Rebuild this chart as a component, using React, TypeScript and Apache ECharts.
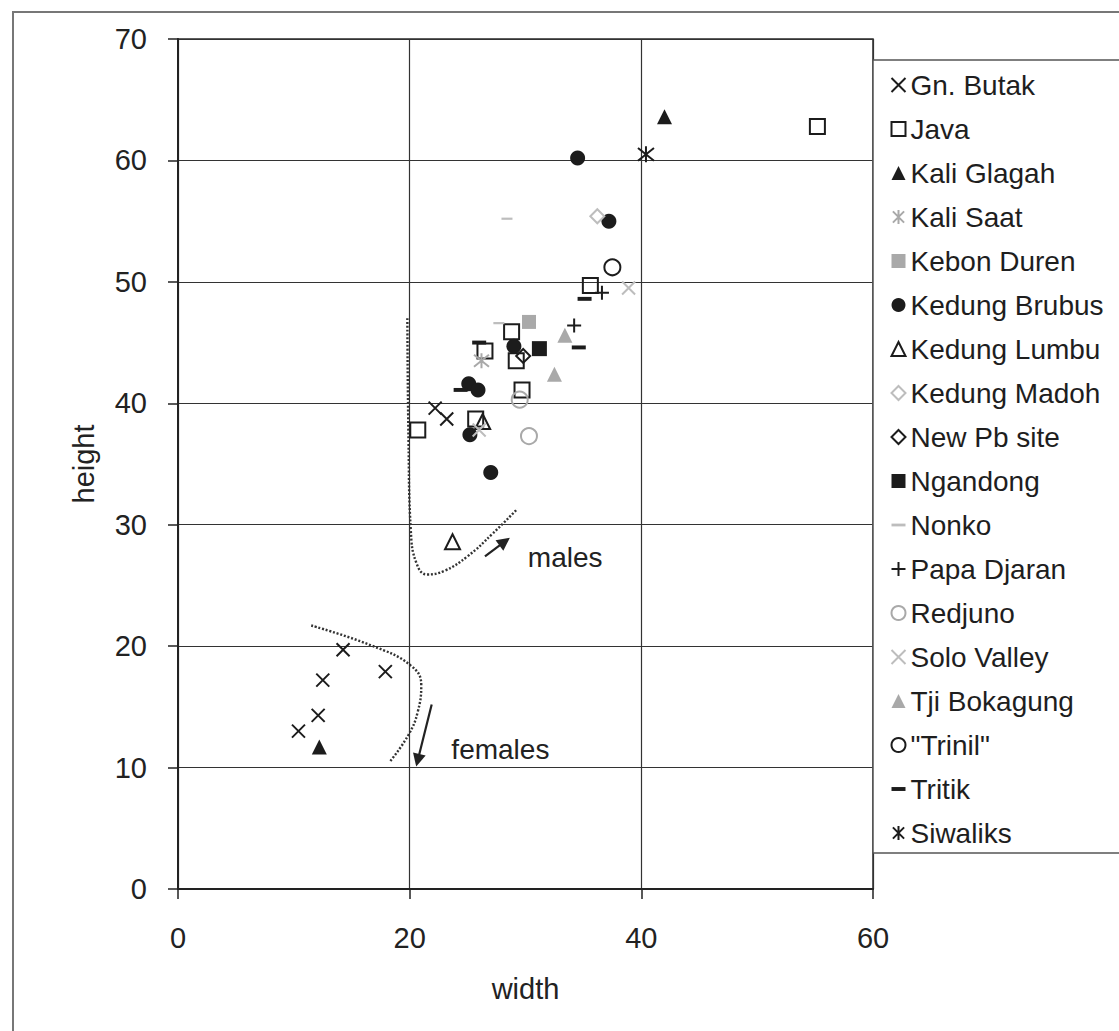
import React, { useEffect, useRef } from 'react';
import * as echarts from 'echarts';

const FONT = '"Liberation Sans", Arial, Helvetica, sans-serif';

// ---- data (width, height) ----
const gnButak = [[14.25, 19.7], [17.9, 17.9], [12.5, 17.2], [12.1, 14.3], [10.4, 13.0], [22.2, 39.6], [23.2, 38.7]];
const java = [[55.2, 62.8], [35.6, 49.7], [28.8, 45.9], [26.5, 44.3], [29.2, 43.5], [29.7, 41.1], [20.7, 37.8], [25.7, 38.7]];
const kaliGlagah = [[42.0, 63.6], [12.2, 11.7]];
const kaliSaat = [[26.2, 43.5]];
const kebonDuren = [[30.3, 46.7]];
const kedungBrubus = [[34.5, 60.2], [37.2, 55.0], [29.0, 44.7], [25.1, 41.6], [25.9, 41.1], [25.2, 37.4], [27.0, 34.3]];
const kedungLumbu = [[26.3, 38.5], [23.7, 28.6]];
const kedungMadoh = [[36.2, 55.4]];
const newPbSite = [[29.8, 43.9]];
const ngandong = [[31.2, 44.5]];
const nonko = [[28.4, 55.2], [27.7, 46.6]];
const papaDjaran = [[36.6, 49.1], [34.2, 46.4]];
const redjuno = [[29.5, 40.3], [30.3, 37.3]];
const soloValley = [[38.9, 49.5], [26.0, 37.8]];
const tjiBokagung = [[33.4, 45.6], [32.5, 42.4]];
const trinil = [[37.5, 51.2]];
const tritik = [[35.1, 48.6], [34.6, 44.6], [26.0, 45.0], [24.4, 41.1]];
const siwaliks = [[40.4, 60.5]];

// hand-drawn annotation curves (control points)
const malesCurve = [[19.8, 47], [19.9, 37], [20.1, 29.5], [20.6, 26.8], [21.5, 25.9], [23.0, 26.2], [25.0, 27.4], [27.2, 29.3], [29.3, 31.3]];
const femalesCurve = [[11.5, 21.7], [16.7, 20.05], [20.1, 18.4], [21.0, 16.8], [20.7, 14.6], [19.9, 12.7], [18.3, 10.5]];
const malesArrow = [[26.5, 27.4], [28.2, 28.6]];
const femalesArrow = [[21.9, 15.2], [20.7, 10.6]];
const malesLabelPos = [30.2, 27.3];
const femalesLabelPos = [23.6, 11.5];

const xTicks = { min: 0, max: 60, interval: 20 };
const yTicks = { min: 0, max: 70, interval: 10 };

const CROSS = 'path://M0,0L10,10M0,10L10,0';
const PLUS = 'path://M5,0L5,10M0,5L10,5';
const STAR = 'path://M1,1L9,9M1,9L9,1M5,0L5,10';
const DASH_THICK = 'path://M0,0M10,10M0,3.6L10,3.6L10,6.4L0,6.4Z';
const DASH_THIN = 'path://M0,0M10,10M0,4L10,4L10,6L0,6Z';

const BLACK = '#1c1c1c';
const GRAY = '#a9a9a9';
const LGRAY = '#bdbdbd';

type S = [string, number[][], string, number, string, string, number];
const seriesDefs: S[] = [
  ['Gn. Butak', gnButak, CROSS, 13, 'none', BLACK, 2],
  ['Java', java, 'rect', 15, 'transparent', BLACK, 2],
  ['Kali Glagah', kaliGlagah, 'triangle', 15, BLACK, BLACK, 0],
  ['Kali Saat', kaliSaat, STAR, 15, 'none', GRAY, 2],
  ['Kebon Duren', kebonDuren, 'rect', 14, GRAY, GRAY, 0],
  ['Kedung Brubus', kedungBrubus, 'circle', 15, BLACK, BLACK, 0],
  ['Kedung Lumbu', kedungLumbu, 'triangle', 15, 'transparent', BLACK, 2],
  ['Kedung Madoh', kedungMadoh, 'diamond', 14, 'transparent', LGRAY, 2],
  ['New Pb site', newPbSite, 'diamond', 14, 'transparent', BLACK, 2],
  ['Ngandong', ngandong, 'rect', 15, BLACK, BLACK, 0],
  ['Nonko', nonko, DASH_THIN, 11, LGRAY, LGRAY, 0],
  ['Papa Djaran', papaDjaran, PLUS, 14, 'none', BLACK, 2],
  ['Redjuno', redjuno, 'circle', 16, 'transparent', GRAY, 2],
  ['Solo Valley', soloValley, CROSS, 13, 'none', LGRAY, 2],
  ['Tji Bokagung', tjiBokagung, 'triangle', 15, GRAY, GRAY, 0],
  ['"Trinil"', trinil, 'circle', 16, 'transparent', BLACK, 2],
  ['Tritik', tritik, DASH_THICK, 14, BLACK, BLACK, 0],
  ['Siwaliks', siwaliks, STAR, 16, 'none', BLACK, 2],
];

export default function App() {
  const ref = useRef<HTMLDivElement>(null);
  useEffect(() => {
    document.body.style.margin = '0';
    const chart = echarts.init(ref.current!, undefined, { renderer: 'svg' });
    const scatter = seriesDefs.map(([name, data, symbol, size, fill, stroke, bw]) => ({
      type: 'scatter',
      name,
      data,
      symbol,
      symbolSize: size,
      itemStyle: { color: fill, borderColor: stroke, borderWidth: bw, opacity: 1 },
      emphasis: { disabled: true },
      z: 3,
    }));
    const curveStyle = { type: [2, 1.8], width: 2.4, color: '#333' };
    const option: any = {
      animation: false,
      backgroundColor: '#ffffff',
      grid: {
        left: 178, top: 39, width: 695, height: 850,
        show: true, borderColor: '#2a2a2a', borderWidth: 1.5, backgroundColor: 'transparent',
      },
      xAxis: {
        type: 'value', min: xTicks.min, max: xTicks.max, interval: xTicks.interval,
        axisLine: { show: true, onZero: false, lineStyle: { color: '#222', width: 2 } },
        axisTick: { show: true, length: 10, lineStyle: { color: '#222', width: 1.5 } },
        axisLabel: { margin: 34, fontSize: 29, color: '#222', fontFamily: FONT },
        splitLine: { show: true, lineStyle: { color: '#333', width: 1.2 } },
        name: 'width', nameLocation: 'middle', nameGap: 85,
        nameTextStyle: { fontSize: 29, color: '#222', fontFamily: FONT },
      },
      yAxis: {
        type: 'value', min: yTicks.min, max: yTicks.max, interval: yTicks.interval,
        axisLine: { show: true, onZero: false, lineStyle: { color: '#222', width: 2 } },
        axisTick: { show: true, length: 10, lineStyle: { color: '#222', width: 1.5 } },
        axisLabel: { margin: 31, fontSize: 29, color: '#222', fontFamily: FONT },
        splitLine: { show: true, lineStyle: { color: '#333', width: 1.2 } },
        name: 'height', nameLocation: 'middle', nameGap: 80, nameRotate: 90,
        nameTextStyle: { fontSize: 29, color: '#222', fontFamily: FONT },
      },
      legend: {
        orient: 'vertical', left: 873, top: 60,
        padding: [11, 24, 6, 16],
        itemGap: 16, itemWidth: 14, itemHeight: 14,
        backgroundColor: '#fff', borderColor: '#555', borderWidth: 1.5,
        textStyle: { fontFamily: FONT, fontSize: 28, color: '#1e1e1e' },
        selectedMode: false,
        data: seriesDefs.map((d) => d[0]),
      },
      series: [
        ...scatter,
        {
          type: 'line', name: 'malesCurve', data: malesCurve, smooth: 0.45, symbol: 'none',
          lineStyle: curveStyle, silent: true, z: 2,
          markLine: {
            silent: true, animation: false, symbol: ['none', 'triangle'], symbolSize: 13,
            lineStyle: { type: 'solid', color: '#222', width: 2.2 }, label: { show: false },
            emphasis: { disabled: true },
            data: [[{ coord: malesArrow[0] }, { coord: malesArrow[1] }], [{ coord: femalesArrow[0] }, { coord: femalesArrow[1] }]],
          },
        },
        {
          type: 'line', name: 'femalesCurve', data: femalesCurve, smooth: 0.45, symbol: 'none',
          lineStyle: curveStyle, silent: true, z: 2,
        },
      ],
    };
    chart.setOption(option);
    const pm = chart.convertToPixel({ gridIndex: 0 }, malesLabelPos) as number[];
    const pf = chart.convertToPixel({ gridIndex: 0 }, femalesLabelPos) as number[];
    chart.setOption({
      graphic: [
        { type: 'rect', shape: { x: 13, y: 12, width: 1200, height: 1100 }, style: { fill: 'none', stroke: '#777', lineWidth: 2 }, silent: true, z: -1 },
        { type: 'text', x: pm[0], y: pm[1], style: { text: 'males', fontSize: 28, fontFamily: FONT, fill: '#222', textAlign: 'left', textVerticalAlign: 'middle' }, z: 10 },
        { type: 'text', x: pf[0], y: pf[1], style: { text: 'females', fontSize: 28, fontFamily: FONT, fill: '#222', textAlign: 'left', textVerticalAlign: 'middle' }, z: 10 },
      ],
    });
    return () => chart.dispose();
  }, []);
  return <div ref={ref} style={{ width: 1119, height: 1031 }} />;
}
